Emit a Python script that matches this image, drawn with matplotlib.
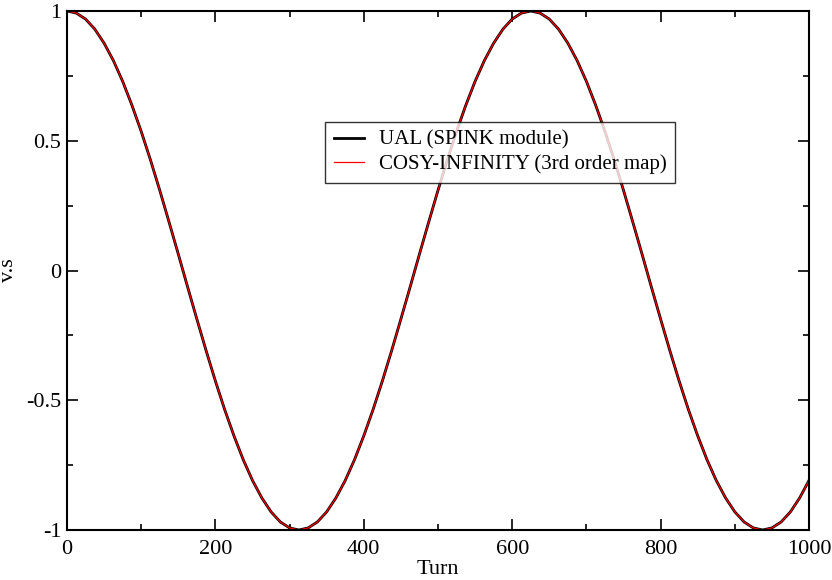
import matplotlib
matplotlib.use('Agg')
import matplotlib.pyplot as plt
import numpy as np
from matplotlib.ticker import MultipleLocator

# turn numbers (every 12.5 turns) and spin component
turns = np.arange(0, 1000.1, 12.5)
ual_vs = [
    1.000, 0.992, 0.969, 0.930, 0.876, 0.809, 0.729, 0.637, 0.536, 0.426,
    0.309, 0.187, 0.063, -0.063, -0.187, -0.309, -0.426, -0.536, -0.637, -0.729,
    -0.809, -0.876, -0.930, -0.969, -0.992, -1.000, -0.992, -0.969, -0.930, -0.876,
    -0.809, -0.729, -0.637, -0.536, -0.426, -0.309, -0.187, -0.063, 0.063, 0.187,
    0.309, 0.426, 0.536, 0.637, 0.729, 0.809, 0.876, 0.930, 0.969, 0.992,
    1.000, 0.992, 0.969, 0.930, 0.876, 0.809, 0.729, 0.637, 0.536, 0.426,
    0.309, 0.187, 0.063, -0.063, -0.187, -0.309, -0.426, -0.536, -0.637, -0.729,
    -0.809, -0.876, -0.930, -0.969, -0.992, -1.000, -0.992, -0.969, -0.930, -0.876,
    -0.809,
]
cosy_vs = list(ual_vs)  # curves overlap at this scale

labels = ['UAL (SPINK module)', 'COSY-INFINITY (3rd order map)']

plt.rcParams['font.family'] = ['Liberation Serif', 'DejaVu Serif']

fig = plt.figure(figsize=(8.32, 5.80), dpi=100)
ax = fig.add_axes([67 / 832, 1 - 530 / 580, 742 / 832, 519 / 580])

ax.plot(turns, ual_vs, color='black', lw=2.0, label=labels[0])
ax.plot(turns, cosy_vs, color='red', lw=0.9, label=labels[1])

ax.set_xlim(0, 1000)
ax.set_ylim(-1, 1)
ax.xaxis.set_major_locator(MultipleLocator(200))
ax.xaxis.set_minor_locator(MultipleLocator(100))
ax.yaxis.set_minor_locator(MultipleLocator(0.25))
ax.set_yticks([-1, -0.5, 0, 0.5, 1])
ax.set_yticklabels(['-1', '-0.5', '0', '0.5', '1'])

ax.tick_params(which='both', direction='in', top=True, right=True,
               width=1.2, labelsize=16)
ax.tick_params(axis='x', pad=7)
ax.tick_params(axis='y', pad=4)
ax.tick_params(which='major', length=8)
ax.tick_params(which='minor', length=4)
for sp in ax.spines.values():
    sp.set_linewidth(1.5)

ax.set_xlabel('Turn', fontsize=16, labelpad=1)
ax.set_ylabel('v.s', fontsize=16, labelpad=6)

leg = ax.legend(loc='upper left', bbox_to_anchor=(0.348, 0.786), fontsize=15,
                frameon=True, fancybox=False, edgecolor='black',
                borderaxespad=0, handlelength=1.45, borderpad=0.4,
                labelspacing=0.22, handletextpad=0.75)
leg.get_frame().set_linewidth(1.0)

fig.savefig('out.png', dpi=100)
